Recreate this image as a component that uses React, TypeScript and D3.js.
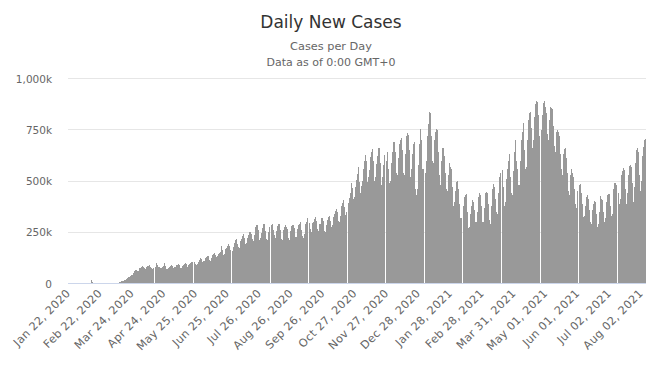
import React from "react";
import * as d3 from "d3";

// Daily new cases, in thousands (Jan 22, 2020 .. Aug 06, 2021)
const jan2020 = [0, 0.1, 0.3, 0.5, 0.7, 0.8, 1.8, 1.5, 1.8, 2.0];
const feb2020 = [2.1, 2.6, 2.8, 3.2, 3.7, 3.2, 3.4, 2.7, 3.0, 2.5, 2.0, 2.0, 15.1, 5.1, 2.6, 2.1, 2.0, 1.9, 0.5, 0.6, 1.0, 1.0, 0.5, 0.6, 0.9, 0.9, 1.2, 1.4, 1.8];
const mar2020 = [2.0, 1.9, 2.3, 2.2, 2.8, 3.9, 4.0, 3.8, 4.1, 4.6, 7.3, 7.5, 10.9, 10.8, 11.5, 14.8, 16.3, 19.6, 28.3, 32.6, 32.5, 34.8, 41.5, 43.7, 50.5, 62.4, 66.4, 65.8, 60.2, 62.9, 75.7];
const apr2020 = [77.6, 82.6, 84.5, 81.9, 74.3, 72.3, 79.1, 83.7, 86.4, 91.6, 81.9, 76.3, 72.9, 75.4, 82.3, 97.6, 88.0, 82.7, 79.9, 74.0, 75.1, 81.2, 87.8, 100.0, 86.1, 72.0, 70.0, 75.8, 80.8, 83.6];
const may2020 = [90, 85, 78, 80, 80, 90, 92, 93, 88, 75, 76, 84, 88, 96, 98, 93, 82, 88, 95, 100, 106, 105, 103, 96, 92, 95, 105, 117, 125, 118, 105];
const jun2020 = [108, 112, 122, 130, 135, 132, 115, 110, 125, 138, 145, 150, 140, 128, 132, 145, 150, 155, 182, 165, 140, 142, 168, 175, 185, 192, 185, 165, 160, 180];
const jul2020 = [200, 212, 218, 195, 178, 175, 208, 215, 230, 240, 220, 192, 200, 220, 238, 252, 250, 240, 215, 205, 235, 278, 285, 287, 260, 212, 220, 248, 272, 288, 290];
const aug2020 = [258, 215, 210, 250, 278, 285, 288, 263, 235, 220, 255, 282, 290, 292, 260, 215, 212, 263, 277, 285, 275, 265, 220, 210, 257, 280, 287, 285, 270, 227, 225];
const sep2020 = [265, 285, 290, 300, 262, 232, 222, 242, 290, 300, 318, 293, 265, 250, 295, 302, 315, 322, 305, 265, 258, 290, 292, 318, 320, 305, 255, 250, 285, 310];
const oct2020 = [322, 330, 305, 275, 285, 322, 340, 355, 365, 350, 305, 300, 330, 380, 395, 405, 375, 335, 350, 392, 415, 440, 488, 465, 410, 420, 470, 505, 535, 570, 495];
const nov2020 = [440, 475, 500, 560, 600, 628, 600, 495, 520, 555, 615, 640, 658, 600, 500, 520, 585, 620, 660, 662, 590, 480, 520, 580, 625, 600, 640, 560, 490, 500];
const dec2020 = [590, 640, 690, 692, 640, 540, 530, 610, 680, 700, 708, 650, 540, 530, 630, 720, 732, 725, 650, 520, 560, 630, 680, 692, 460, 430, 460, 580, 680, 755, 700];
const jan2021 = [560, 560, 540, 600, 720, 780, 835, 830, 720, 600, 590, 700, 740, 755, 750, 640, 530, 480, 600, 660, 662, 620, 540, 460, 450, 530, 590, 570, 560, 470, 380];
const feb2021 = [400, 450, 495, 500, 460, 390, 320, 320, 380, 420, 430, 435, 350, 270, 275, 340, 380, 405, 400, 360, 300, 300, 350, 420, 440, 430, 380, 300];
const mar2021 = [300, 370, 440, 448, 440, 390, 310, 290, 380, 460, 485, 470, 410, 350, 340, 440, 520, 540, 555, 470, 380, 400, 510, 560, 600, 630, 520, 440, 430, 550, 640];
const apr2021 = [700, 600, 560, 480, 480, 600, 700, 740, 785, 650, 560, 570, 700, 800, 830, 835, 760, 660, 700, 810, 875, 890, 885, 820, 720, 750, 820, 880, 892, 860];
const may2021 = [830, 730, 700, 800, 860, 855, 850, 770, 670, 640, 740, 750, 740, 720, 630, 560, 530, 630, 655, 660, 610, 540, 450, 430, 530, 558, 540, 520, 460, 390, 370];
const jun2021 = [450, 480, 485, 440, 390, 325, 330, 380, 420, 432, 410, 360, 300, 290, 360, 390, 404, 400, 340, 278, 290, 350, 427, 410, 405, 350, 300, 320, 400, 430];
const jul2021 = [437, 435, 380, 330, 340, 460, 490, 488, 480, 440, 390, 410, 530, 550, 563, 555, 460, 390, 440, 530, 575, 580, 570, 490, 400, 470, 590, 650, 660, 640, 530];
const aug2021 = [450, 500, 620, 665, 700, 705];

const monthly = [jan2020, feb2020, mar2020, apr2020, may2020, jun2020, jul2020, aug2020, sep2020, oct2020, nov2020, dec2020,
  jan2021, feb2021, mar2021, apr2021, may2021, jun2021, jul2021, aug2021];
const dailyCases = monthly.flat().map((k) => k * 1000);

const startDate = new Date(2020, 0, 22);
const fmt = d3.timeFormat("%b %d, %Y");
const categories = dailyCases.map((_, i) => fmt(d3.timeDay.offset(startDate, i)));

const tickLabels = [
  "Jan 22, 2020", "Feb 22, 2020", "Mar 24, 2020", "Apr 24, 2020", "May 25, 2020", "Jun 25, 2020",
  "Jul 26, 2020", "Aug 26, 2020", "Sep 26, 2020", "Oct 27, 2020", "Nov 27, 2020", "Dec 28, 2020",
  "Jan 28, 2021", "Feb 28, 2021", "Mar 31, 2021", "May 01, 2021", "Jun 01, 2021", "Jul 02, 2021", "Aug 02, 2021",
];
const yTicks = [0, 250000, 500000, 750000, 1000000];
const yTickLabels = ["0", "250k", "500k", "750k", "1,000k"];

const FONT = "'DejaVu Sans', 'Lucida Grande', sans-serif";

export default function App() {
  const W = 662, H = 368;
  const left = 68, right = 646, top = 78.5, bottom = 283.5;
  const x = d3.scaleBand<string>().domain(categories).range([left, right]).padding(0);
  const y = d3.scaleLinear().domain([0, 1000000]).range([bottom, top]);
  const step = x.step();
  const baseRow = Math.floor(bottom);

  return (
    <svg width={W} height={H} style={{ position: "absolute", left: 0, top: 0, background: "#fff" }} fontFamily={FONT}>
      <rect x={0} y={0} width={W} height={H} fill="#fff" />
      <text x={W / 2} y={28} textAnchor="middle" fontSize={17} fill="#333">Daily New Cases</text>
      <text x={W / 2} y={50} textAnchor="middle" fontSize={11.3} fill="#666">Cases per Day</text>
      <text x={W / 2} y={66} textAnchor="middle" fontSize={11} fill="#666">Data as of 0:00 GMT+0</text>

      {yTicks.map((t, i) => (
        <g key={t}>
          {t > 0 && (
            <line x1={left} x2={right} y1={Math.floor(y(t)) + 0.5} y2={Math.floor(y(t)) + 0.5} stroke="#e6e6e6" strokeWidth={1} />
          )}
          <text x={52} y={y(t) + 4} textAnchor="end" fontSize={10.5} fill="#666">{yTickLabels[i]}</text>
        </g>
      ))}

      <g shapeRendering="crispEdges">
        {dailyCases.map((v, i) => {
          const top0 = Math.round(y(v));
          const h = baseRow - top0;
          if (h <= 0) return null;
          return (
            <rect key={i} x={Math.floor((x(categories[i]) as number) + 0.77)} y={top0} width={1} height={h} fill="#999" />
          );
        })}
      </g>

      <line x1={left} x2={right} y1={baseRow + 0.5} y2={baseRow + 0.5} stroke="#ccd6eb" strokeWidth={1} />

      {tickLabels.map((lab) => {
        const cx = (x(categories[categories.indexOf(lab)]) as number) + step / 2;
        const ax = cx + 2.5;
        const ay = 294;
        return (
          <text key={lab} x={ax} y={ay} textAnchor="end" fontSize={11.2} letterSpacing={0.35} fill="#666" transform={`rotate(-45 ${ax} ${ay})`}>
            {lab}
          </text>
        );
      })}
    </svg>
  );
}
